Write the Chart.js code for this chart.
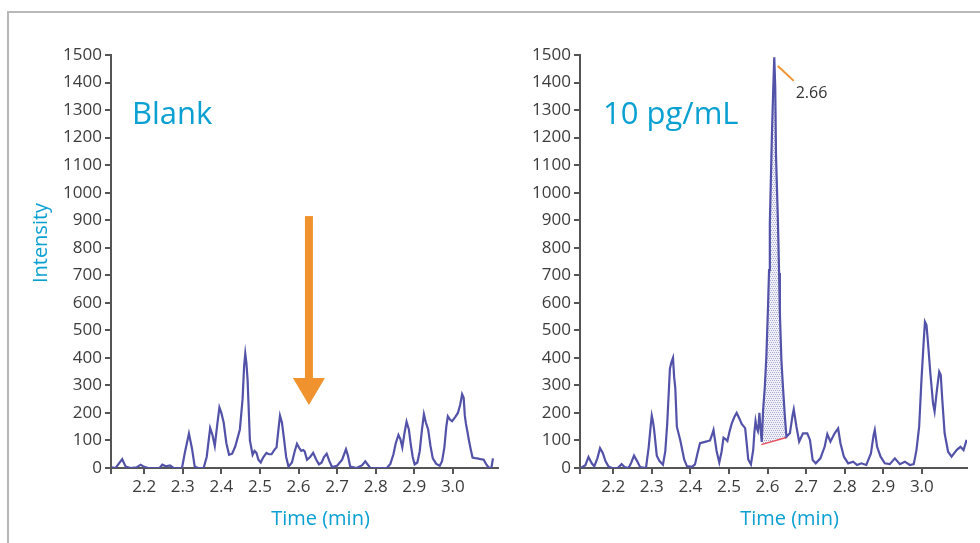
<!DOCTYPE html>
<html>
<head>
<meta charset="utf-8">
<title>Blank vs 10 pg/mL</title>
<script src="https://cdn.jsdelivr.net/npm/chart.js@4.4.1/dist/chart.umd.min.js"></script>
<style>
  html, body { margin: 0; padding: 0; background: #fff; }
  body { width: 980px; height: 543px; position: relative; overflow: hidden; }
  .frame {
    position: absolute; left: 7px; top: 11px; right: -10px; bottom: -10px;
    border-top: 2px solid #b8b8b8; border-left: 2px solid #b8b8b8;
  }
  .panel { position: absolute; top: 0; height: 543px; }
  #panel-blank { left: 0; width: 520px; }
  #panel-spiked { left: 520px; width: 460px; }
</style>
</head>
<body>
<div class="frame"></div>
<div class="panel" id="panel-blank"><canvas id="blankChart"></canvas></div>
<div class="panel" id="panel-spiked"><canvas id="spikedChart"></canvas></div>

<script>
// axis ticks
const xTicks = [2.2, 2.3, 2.4, 2.5, 2.6, 2.7, 2.8, 2.9, 3.0];
const xMin = 2.114;
const xMax = 3.117;
const yMax = 1500;
const yStep = 100;

// Blank chromatogram
const blankTime = [
  2.116, 2.126, 2.143, 2.152, 2.165, 2.180, 2.191, 2.200, 2.210, 2.240,
  2.247, 2.256, 2.267, 2.276, 2.298, 2.306, 2.316, 2.324, 2.331, 2.340,
  2.354, 2.362, 2.371, 2.377, 2.383, 2.390, 2.395, 2.400, 2.406, 2.413,
  2.420, 2.428, 2.436, 2.448, 2.455, 2.459, 2.462, 2.465, 2.468, 2.474,
  2.481, 2.486, 2.491, 2.496, 2.502, 2.509, 2.517, 2.523, 2.530, 2.537,
  2.543, 2.548, 2.552, 2.557, 2.562, 2.568, 2.574, 2.583, 2.590, 2.596,
  2.603, 2.607, 2.612, 2.616, 2.622, 2.630, 2.638, 2.646, 2.653, 2.660,
  2.666, 2.673, 2.680, 2.687, 2.700, 2.713, 2.723, 2.728, 2.734, 2.751,
  2.765, 2.773, 2.786, 2.829, 2.838, 2.846, 2.852, 2.859, 2.864, 2.869,
  2.875, 2.880, 2.886, 2.891, 2.896, 2.901, 2.908, 2.914, 2.920, 2.925,
  2.930, 2.936, 2.942, 2.948, 2.957, 2.966, 2.972, 2.978, 2.983, 2.987,
  2.993, 2.998, 3.006, 3.013, 3.019, 3.024, 3.028, 3.031, 3.034, 3.038,
  3.041, 3.046, 3.051, 3.058, 3.064, 3.072, 3.080, 3.087, 3.094, 3.100,
  3.104
];
const blankIntensity = [
  2, 0, 32, 5, 0, 2, 12, 4, 0, 0,
  12, 6, 9, 0, 0, 60, 125, 70, 5, 0,
  0, 40, 145, 120, 80, 165, 220, 200, 165, 90,
  48, 52, 78, 140, 250, 370, 415, 380, 320, 100,
  48, 62, 55, 30, 20, 40, 55, 50, 50, 65,
  75, 140, 190, 165, 110, 40, 5, 20, 60, 88,
  70, 62, 65, 60, 30, 40, 55, 30, 13, 20,
  40, 52, 25, 3, 8, 30, 68, 45, 5, 0,
  10, 24, 0, 0, 15, 50, 90, 120, 105, 75,
  130, 168, 140, 85, 40, 13, 20, 60, 140, 195,
  165, 140, 80, 35, 15, 8, 25, 75, 150, 188,
  175, 170, 185, 200, 230, 268, 255, 190, 160, 130,
  105, 70, 38, 36, 35, 32, 30, 12, 0, 2,
  35
];

// 10 pg/mL chromatogram
const spikedTime = [
  2.116, 2.128, 2.136, 2.144, 2.151, 2.159, 2.166, 2.173, 2.180, 2.188,
  2.197, 2.212, 2.222, 2.230, 2.240, 2.247, 2.254, 2.262, 2.270, 2.285,
  2.292, 2.297, 2.300, 2.303, 2.306, 2.313, 2.320, 2.329, 2.335, 2.340,
  2.343, 2.347, 2.351, 2.355, 2.358, 2.361, 2.365, 2.374, 2.384, 2.391,
  2.404, 2.412, 2.418, 2.425, 2.438, 2.451, 2.456, 2.460, 2.464, 2.468,
  2.475, 2.481, 2.486, 2.491, 2.496, 2.502, 2.507, 2.514, 2.520, 2.527,
  2.533, 2.542, 2.546, 2.550, 2.557, 2.563, 2.566, 2.569, 2.572, 2.575,
  2.577, 2.579, 2.582, 2.585, 2.5886, 2.593, 2.597, 2.6016, 2.604, 2.606,
  2.6115, 2.615, 2.6175, 2.620, 2.622, 2.627, 2.630, 2.632, 2.636, 2.640,
  2.645, 2.649, 2.658, 2.665, 2.668, 2.675, 2.682, 2.692, 2.703, 2.710,
  2.717, 2.725, 2.737, 2.748, 2.755, 2.763, 2.774, 2.783, 2.789, 2.798,
  2.809, 2.822, 2.832, 2.843, 2.856, 2.868, 2.875, 2.878, 2.884, 2.893,
  2.904, 2.917, 2.930, 2.943, 2.956, 2.969, 2.979, 2.986, 2.993, 2.999,
  3.005, 3.008, 3.012, 3.016, 3.022, 3.029, 3.033, 3.039, 3.045, 3.049,
  3.053, 3.059, 3.068, 3.077, 3.090, 3.100, 3.108, 3.116
];
const spikedIntensity = [
  0, 10, 40, 18, 6, 35, 72, 55, 25, 5,
  0, 0, 14, 3, 0, 20, 45, 25, 3, 0,
  75, 150, 190, 170, 140, 45, 25, 12, 60, 160,
  245, 360, 385, 400, 330, 290, 150, 100, 31, 7,
  4, 13, 50, 90, 95, 100, 120, 138, 100, 62,
  20, 60, 110, 105, 98, 135, 160, 185, 200, 180,
  160, 145, 90, 31, 13, 67, 130, 170, 145, 134,
  160, 200, 140, 95, 211, 295, 404, 599, 719, 890,
  1216, 1385, 1492, 1385, 1137, 895, 708, 563, 392, 295,
  186, 114, 126, 193, 213, 150, 96, 126, 126, 102,
  29, 17, 35, 77, 123, 96, 126, 144, 90, 41,
  17, 23, 11, 17, 11, 53, 120, 138, 77, 41,
  17, 14, 35, 14, 23, 11, 14, 65, 150, 320,
  465, 531, 519, 453, 344, 235, 205, 283, 350, 338,
  247, 126, 59, 41, 65, 77, 65, 102
];

// integrated peak and its baseline
const peakStart = 2.585;
const peakEnd = 2.649;
const baselineTime = [2.584, 2.651];
const baselineIntensity = [85, 112];
const peakLabel = "2.66";

const TRACE = "#5252a8";
const CYAN = "#0aa0d2";
const AXIS = "#555555";
const TICK_TEXT = "#3c3c3c";
const ORANGE = "#f0922e";
const FONT = "'Open Sans', 'DejaVu Sans', sans-serif";

function toPoints(xs, ys) {
  return xs.map((x, i) => ({ x: x, y: ys[i] }));
}

function hatchPattern() {
  const c = document.createElement("canvas");
  c.width = 4;
  c.height = 4;
  const g = c.getContext("2d");
  g.fillStyle = "#f0f0f8";
  g.fillRect(0, 0, 4, 4);
  g.fillStyle = "#a9a9d3";
  g.fillRect(0, 0, 1, 1);
  g.fillRect(2, 0, 1, 1);
  g.fillRect(1, 2, 1, 1);
  g.fillRect(3, 2, 1, 1);
  return g.createPattern(c, "repeat");
}

// text and arrow drawn on top of each panel
const notesPlugin = {
  id: "notes",
  afterDatasetsDraw(chart, args, opts) {
    const ctx = chart.ctx;
    const area = chart.chartArea;
    const xs = chart.scales.x;
    const ys = chart.scales.y;
    ctx.save();

    ctx.fillStyle = CYAN;
    ctx.font = "31px " + FONT;
    ctx.textAlign = "left";
    ctx.textBaseline = "alphabetic";
    ctx.fillText(opts.label, area.left + opts.labelDx, 124);

    ctx.font = "20px " + FONT;
    ctx.textAlign = "center";
    ctx.textBaseline = "middle";
    ctx.fillText("Time (min)", (area.left + area.right) / 2 + 16, 519);

    if (opts.yTitle) {
      ctx.save();
      ctx.translate(41, 243);
      ctx.rotate(-Math.PI / 2);
      ctx.fillText(opts.yTitle, 0, 0);
      ctx.restore();
    }

    if (opts.arrow) {
      const a = opts.arrow;
      const cx = xs.getPixelForValue(a.time);
      const yTop = ys.getPixelForValue(a.top);
      const yBase = ys.getPixelForValue(a.headBase);
      const yTip = ys.getPixelForValue(a.tip);
      ctx.fillStyle = ORANGE;
      ctx.fillRect(cx - 4, yTop, 8, yBase - yTop + 1);
      ctx.beginPath();
      ctx.moveTo(cx - 16, yBase);
      ctx.lineTo(cx + 16, yBase);
      ctx.lineTo(cx, yTip);
      ctx.closePath();
      ctx.fill();
    }

    if (opts.peak) {
      const p = opts.peak;
      ctx.strokeStyle = ORANGE;
      ctx.lineWidth = 2;
      ctx.beginPath();
      ctx.moveTo(xs.getPixelForValue(p.lineFrom[0]), ys.getPixelForValue(p.lineFrom[1]));
      ctx.lineTo(xs.getPixelForValue(p.lineTo[0]), ys.getPixelForValue(p.lineTo[1]));
      ctx.stroke();
      ctx.fillStyle = "#333333";
      ctx.font = "16px " + FONT;
      ctx.textAlign = "left";
      ctx.textBaseline = "middle";
      ctx.fillText(p.text, xs.getPixelForValue(p.at[0]), ys.getPixelForValue(p.at[1]));
    }
    ctx.restore();
  },
};

function scales(yWidth) {
  return {
    x: {
      type: "linear",
      min: xMin,
      max: xMax,
      afterBuildTicks: (scale) => {
        scale.ticks = [xMin].concat(xTicks).map((v) => ({ value: v }));
      },
      afterFit: (scale) => {
        scale.height = 75;
      },
      ticks: {
        autoSkip: false,
        maxRotation: 0,
        padding: 3,
        color: TICK_TEXT,
        font: { family: FONT, size: 17 },
        callback: (v) => (v === xMin ? "" : v.toFixed(1)),
      },
      grid: { drawOnChartArea: false, drawTicks: true, tickLength: 6, color: AXIS, lineWidth: 2 },
      border: { display: true, color: AXIS, width: 2 },
    },
    y: {
      min: 0,
      max: yMax,
      afterFit: (scale) => {
        scale.width = yWidth;
      },
      ticks: {
        stepSize: yStep,
        autoSkip: false,
        padding: 3,
        color: TICK_TEXT,
        font: { family: FONT, size: 17 },
        callback: (v) => String(v),
      },
      grid: { drawOnChartArea: false, drawTicks: true, tickLength: 6, color: AXIS, lineWidth: 2 },
      border: { display: true, color: AXIS, width: 2 },
    },
  };
}

function traceDataset(points) {
  return {
    data: points,
    borderColor: TRACE,
    borderWidth: 2.2,
    pointRadius: 0,
    tension: 0,
    fill: false,
    order: 0,
  };
}

function crearBlank() {
  const ctx = document.getElementById("blankChart").getContext("2d");
  return new Chart(ctx, {
    type: "line",
    data: { datasets: [traceDataset(toPoints(blankTime, blankIntensity))] },
    options: {
      responsive: true,
      maintainAspectRatio: false,
      animation: false,
      layout: { padding: { left: 0, right: 22, top: 55, bottom: 0 } },
      scales: scales(111),
      plugins: {
        legend: { display: false },
        tooltip: { enabled: false },
        notes: {
          label: "Blank",
          labelDx: 21,
          yTitle: "Intensity",
          arrow: { time: 2.627, top: 915, headBase: 327, tip: 229 },
        },
      },
    },
    plugins: [notesPlugin],
  });
}

function crearSpiked() {
  const ctx = document.getElementById("spikedChart").getContext("2d");
  const trace = toPoints(spikedTime, spikedIntensity);
  const peak = trace.filter((p) => p.x >= peakStart && p.x <= peakEnd);
  return new Chart(ctx, {
    type: "line",
    data: {
      datasets: [
        traceDataset(trace),
        {
          data: toPoints(baselineTime, baselineIntensity),
          borderColor: "#e8505a",
          borderWidth: 1.5,
          pointRadius: 0,
          fill: false,
          order: 1,
        },
        {
          data: peak,
          borderWidth: 0,
          borderColor: "rgba(0,0,0,0)",
          backgroundColor: hatchPattern(),
          pointRadius: 0,
          fill: 1,
          order: 2,
        },
      ],
    },
    options: {
      responsive: true,
      maintainAspectRatio: false,
      animation: false,
      layout: { padding: { left: 0, right: 13, top: 55, bottom: 0 } },
      scales: scales(60),
      plugins: {
        legend: { display: false },
        tooltip: { enabled: false },
        notes: {
          label: "10 pg/mL",
          labelDx: 23,
          peak: { lineFrom: [2.6267, 1460], lineTo: [2.668, 1406], at: [2.673, 1360], text: peakLabel },
        },
      },
    },
    plugins: [notesPlugin],
  });
}

document.addEventListener("DOMContentLoaded", function () {
  crearBlank();
  crearSpiked();
});
</script>
</body>
</html>
